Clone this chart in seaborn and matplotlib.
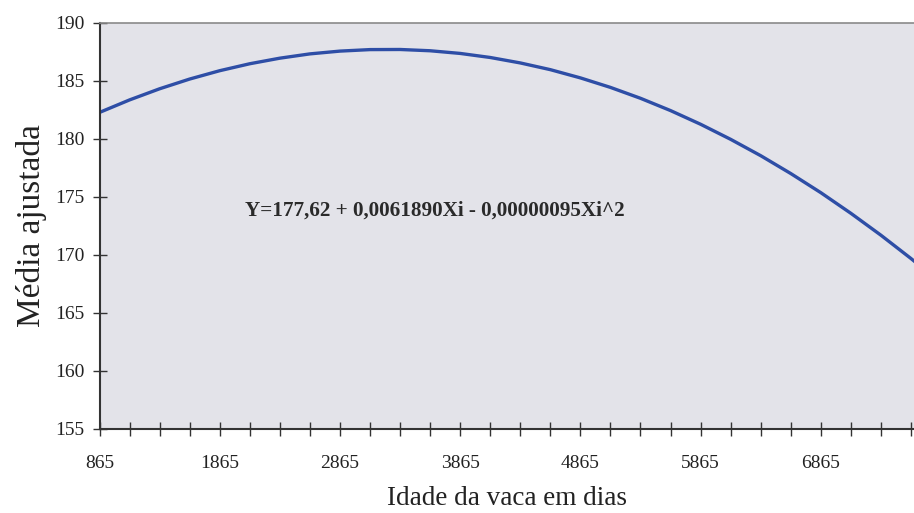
import matplotlib
matplotlib.use("Agg")
import matplotlib.pyplot as plt
import seaborn as sns
import pandas as pd
from matplotlib.ticker import MultipleLocator, FixedLocator

# Data (idade em dias, média ajustada)
idade = [865, 1115, 1365, 1615, 1865, 2115, 2365, 2615, 2865, 3115, 3365, 3615,
         3865, 4115, 4365, 4615, 4865, 5115, 5365, 5615, 5865, 6115, 6365, 6615,
         6865, 7115, 7365, 7615, 7865]
media = [182.26, 183.34, 184.30, 185.14, 185.86, 186.46, 186.94, 187.31, 187.55,
         187.68, 187.69, 187.58, 187.35, 187.00, 186.53, 185.95, 185.24, 184.42,
         183.48, 182.42, 181.24, 179.94, 178.53, 176.99, 175.34, 173.56, 171.67,
         169.66, 167.53]
x_labels = [865, 1865, 2865, 3865, 4865, 5865, 6865]
y_ticks = [155, 160, 165, 170, 175, 180, 185, 190]
equation = "Y=177,62 + 0,0061890Xi - 0,00000095Xi^2"

sns.set_style("white")
plt.rcParams['font.family'] = ['Liberation Serif', 'DejaVu Serif']

df = pd.DataFrame({"idade": idade, "media": media})

fig = plt.figure(figsize=(9.14, 5.13), dpi=100)
ax = fig.add_axes([99.5 / 914, 84.5 / 513, 1 - 99.5 / 914, (428.5 - 22.7) / 513])
ax.set_facecolor("#e3e3e9")

sns.lineplot(data=df, x="idade", y="media", ax=ax, color="#2e4ea6", linewidth=2.4)

ax.set_xlim(865, 7640)
ax.set_ylim(155, 190)
ax.xaxis.set_major_locator(FixedLocator(x_labels))
ax.xaxis.set_minor_locator(MultipleLocator(250, offset=865 % 250))
ax.set_yticks(y_ticks)
ax.set_xticklabels([str(v) for v in x_labels])

ax.tick_params(axis="both", which="both", direction="inout", color="#333333",
               width=1.0, labelsize=14, labelcolor="#222222",
               bottom=True, left=True, top=False, right=False)
ax.tick_params(axis="y", which="major", length=10, pad=6)
ax.tick_params(axis="x", which="major", length=10, pad=14)
ax.tick_params(axis="x", which="minor", length=10, width=1.0)

for side in ["left", "bottom"]:
    ax.spines[side].set_color("#333333")
    ax.spines[side].set_linewidth(1.5)
ax.spines["top"].set_color("#8a8a8a")
ax.spines["top"].set_linewidth(1.2)
ax.spines["right"].set_visible(False)

ax.set_xlabel("Idade da vaca em dias", fontsize=19.5, color="#222222", labelpad=10)
ax.set_ylabel("Média ajustada", fontsize=24, color="#222222", labelpad=6)

ax.text(2075, 173.8, equation, fontsize=15.2, fontweight="bold", color="#2a2a2a",
        ha="left", va="center")

fig.savefig("out.png", dpi=100)
